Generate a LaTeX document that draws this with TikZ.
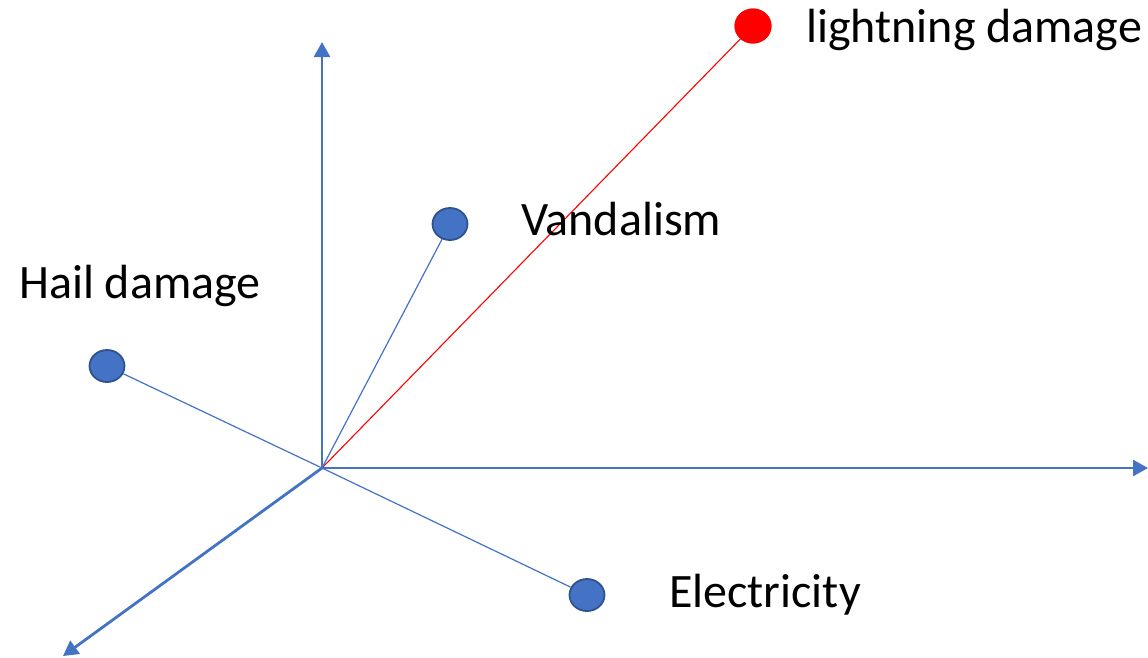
\documentclass[tikz,border=0pt]{standalone}
\usepackage{fontspec}
\setmainfont{Carlito}
\usetikzlibrary{arrows.meta,shapes.geometric}
\definecolor{axblue}{HTML}{4472C4}
\definecolor{dotedge}{HTML}{2F528F}
\tikzset{
  axis/.style={draw=axblue, line width=2.8pt, -{Triangle[width=16pt,length=15pt]}},
  vec/.style={draw=axblue, line width=1.2pt},
  redvec/.style={draw=red, line width=1.1pt},
  dot/.style={ellipse, draw=dotedge, line width=1.8pt, fill=axblue, minimum width=35pt, minimum height=32pt, inner sep=0pt},
  reddot/.style={ellipse, fill=red, minimum width=37pt, minimum height=35pt, inner sep=0pt},
  lbl/.style={anchor=base west, inner sep=0pt, font=\fontsize{48}{58}\selectfont}
}
\begin{document}
\begin{tikzpicture}[x=1pt,y=-1pt]
\useasboundingbox (0,0) rectangle (1148,657);
\coordinate (O) at (322,468);
\coordinate (up) at (322,42);
\coordinate (right) at (1148,468);
\coordinate (dl) at (63,656);
\draw[axis] (O) -- (up);
\draw[axis] (O) -- (right);
\draw[axis] (O) -- (dl);
\node[reddot] (L) at (753,26) {};
\node[dot] (V) at (450,224) {};
\node[dot] (H) at (107,366) {};
\node[dot] (E) at (587,595) {};
\draw[redvec] (O) -- (L.center);
\draw[vec] (O) -- (V);
\draw[vec] (O) -- (H);
\draw[vec] (O) -- (E);
\node[reddot] at (L.center) {};
\node[lbl] (tL) at (806,42) {lightning damage};
\node[lbl] (tV) at (521,235) {Vandalism};
\node[lbl] (tH) at (19,298) {Hail damage};
\node[lbl] (tE) at (669,607) {Electricity};
\end{tikzpicture}
\end{document}
